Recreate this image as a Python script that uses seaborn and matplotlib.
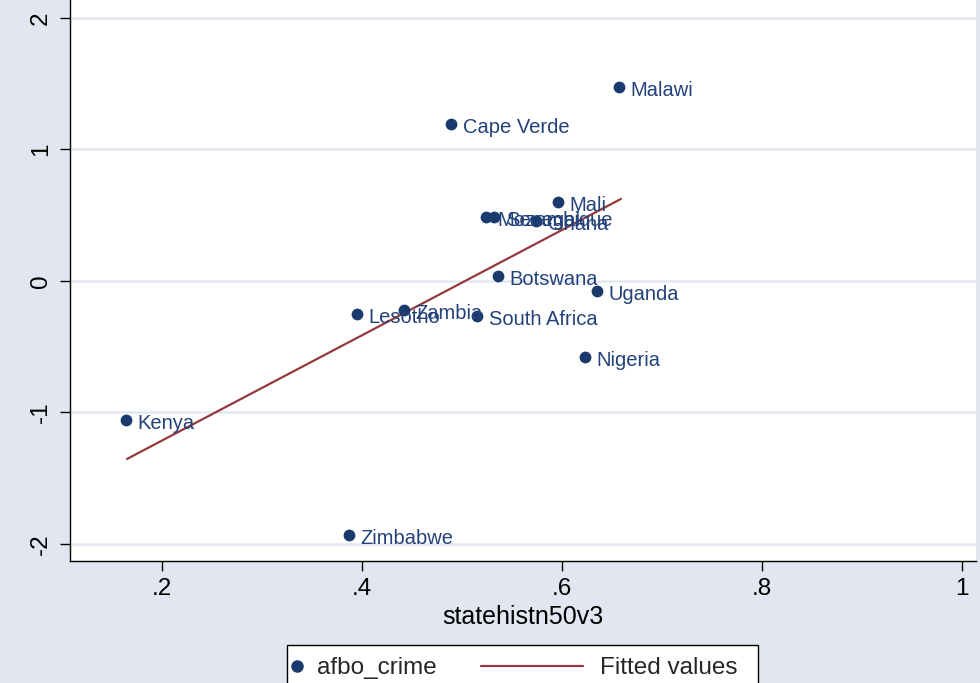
import matplotlib
matplotlib.use('Agg')
import matplotlib.pyplot as plt
import seaborn as sns
from matplotlib.lines import Line2D
from matplotlib.patches import Rectangle

# ---- data ----
countries = ['Malawi', 'Cape Verde', 'Mali', 'Mozambique', 'Senegal', 'Ghana',
             'Botswana', 'Uganda', 'Lesotho', 'Zambia', 'South Africa',
             'Nigeria', 'Kenya', 'Zimbabwe']
statehist = [0.657, 0.489, 0.596, 0.524, 0.532, 0.574, 0.536, 0.635,
             0.395, 0.442, 0.515, 0.623, 0.164, 0.387]
afbo_crime = [1.475, 1.194, 0.601, 0.487, 0.487, 0.456, 0.038, -0.076,
              -0.251, -0.221, -0.266, -0.578, -1.057, -1.932]
fit_x = [0.165, 0.659]
fit_y = [-1.354, 0.624]
x_ticks = [0.2, 0.4, 0.6, 0.8, 1.0]
x_tick_labels = ['.2', '.4', '.6', '.8', '1']
y_ticks = [-2, -1, 0, 1, 2]
y_tick_labels = ['-2', '-1', '0', '1', '2']

sns.set_theme(style='white')
plt.rcParams['font.family'] = ['Liberation Sans', 'DejaVu Sans']

BG = '#E1E6F0'
NAVY = '#1A3A6E'
LABEL = '#23427A'
MAROON = '#943A3F'
GRID = '#E3E8F1'

fig = plt.figure(figsize=(9.8, 6.83), dpi=100, facecolor=BG)
ax = fig.add_axes([70 / 980, 1 - 561 / 683, (976 - 70) / 980, 561 / 683])
ax.set_facecolor('white')

for yv in y_ticks:
    ax.axhline(yv, color=GRID, lw=1.8, zorder=0)

sns.lineplot(x=fit_x, y=fit_y, ax=ax, color=MAROON, lw=1.6, zorder=2)
sns.scatterplot(x=statehist, y=afbo_crime, ax=ax, color=NAVY, s=72,
                edgecolor=NAVY, linewidth=0, zorder=3)
for name, xv, yv in zip(countries, statehist, afbo_crime):
    ax.annotate(name, (xv, yv), xytext=(8.5, -2.5), textcoords='offset points',
                ha='left', va='center', fontsize=14.5, color=LABEL, zorder=4)

ax.set_xlim(0.108, 1.014)
ax.set_ylim(-2.13, 2.137)
ax.set_xticks(x_ticks)
ax.set_xticklabels(x_tick_labels)
ax.set_yticks(y_ticks)
ax.set_yticklabels(y_tick_labels, rotation=90, va='center')
ax.tick_params(axis='both', direction='out', length=7, width=1, colors='black',
               labelsize=17.5, left=True, bottom=True)
ax.tick_params(axis='y', pad=6)
ax.tick_params(axis='x', pad=5)
for s in ['top', 'right']:
    ax.spines[s].set_visible(False)
for s in ['left', 'bottom']:
    ax.spines[s].set_color('black')
    ax.spines[s].set_linewidth(1)
ax.set_xlabel('statehistn50v3', fontsize=18, labelpad=4, color='black')
ax.set_ylabel('')

# legend (box clipped by the figure bottom as in the reference)
h1 = Line2D([], [], marker='o', ls='none', color=NAVY, markersize=8)
h2 = Line2D([], [], color=MAROON, lw=1.6)
rect = Rectangle((287 / 980, -0.05), 471 / 980, 0.05 + 38 / 683,
                 transform=fig.transFigure, facecolor='white',
                 edgecolor='black', lw=1, zorder=0)
fig.patches.append(rect)
legA = fig.legend([h1], ['afbo_crime'], loc='center left',
                  bbox_to_anchor=(290 / 980, 1 - 668 / 683), frameon=False,
                  handlelength=0.6, handletextpad=0.5, fontsize=17.5,
                  borderpad=0, borderaxespad=0)
legB = fig.legend([h2], ['Fitted values'], loc='center left',
                  bbox_to_anchor=(481 / 980, 1 - 668 / 683), frameon=False,
                  handlelength=4.2, handletextpad=0.7, fontsize=17.5,
                  borderpad=0, borderaxespad=0)

fig.savefig('out.png', dpi=100, facecolor=BG)
